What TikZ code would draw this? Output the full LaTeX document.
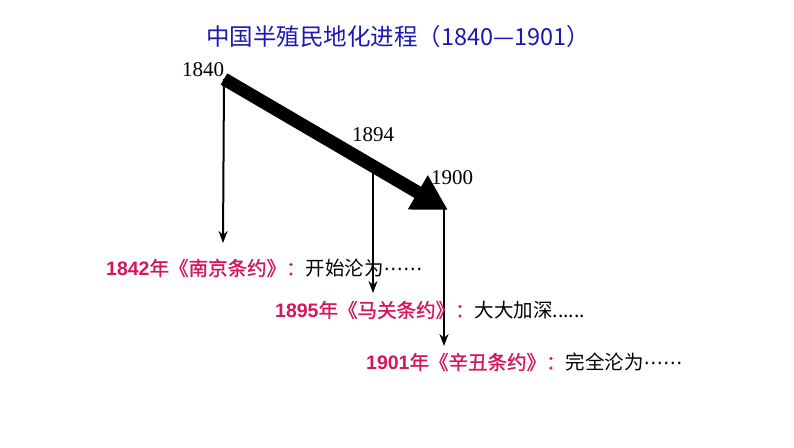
\documentclass[tikz,border=0pt]{standalone}
\usepackage{fontspec}
\setmainfont{Liberation Serif}
\newfontfamily\cjk{Noto Sans CJK SC}
\newfontfamily\cjkm[RawFeature={embolden=1.2}]{Noto Sans CJK SC}
\newfontfamily\arl{Liberation Sans}
\newfontfamily\dvs{DejaVu Sans}
\usetikzlibrary{arrows.meta}
\definecolor{titleblue}{RGB}{26,26,176}
\definecolor{treatypink}{RGB}{214,22,92}
\tikzset{
  yearlbl/.style={font=\fontsize{21}{21}\selectfont, inner sep=0pt, anchor=west},
  evtlbl/.style={font=\cjk\fontsize{19.5}{19.5}\selectfont, inner sep=0pt, anchor=west},
  dropline/.style={line width=2pt, -{Stealth[length=12pt,width=9pt]}},
  bigarrow/.style={line width=13pt, -{Triangle[length=35pt,width=37pt]}},
}
\newcommand{\pk}[2]{\textcolor{treatypink}{{\arl\bfseries #1}{\cjkm #2}}}
\newcommand{\mdots}{{\dvs ⋯⋯}}
\begin{document}
\begin{tikzpicture}[x=1pt,y=-1pt]
\useasboundingbox (0,0) rectangle (794,447);
\node[anchor=west, inner sep=0pt, text=titleblue, font=\cjk\fontsize{23.5}{23.5}\selectfont] (title) at (206,37) {中国半殖民地化进程（1840—1901）};
\node[yearlbl] (y1840) at (182,70) {1840};
\node[yearlbl] (y1894) at (352,135) {1894};
\node[yearlbl] (y1900) at (431,178) {1900};
\coordinate (s) at (224,79);
\coordinate (e) at (448,210);
\coordinate (b1894) at (373,166);
\coordinate (b1900) at (444,208);
\coordinate (t1) at (223,243);
\coordinate (t2) at (373,293);
\coordinate (t3) at (444,346);
\draw[bigarrow] (s) -- (e);
\draw[dropline] (s) -- (t1);
\draw[dropline] (b1894) -- (t2);
\draw[dropline, line width=2.8pt] (b1900) -- (t3);
\node[evtlbl] (ev1) at (106,268) {\pk{1842}{年《南京条约》：}开始沦为\mdots};
\node[evtlbl] (ev2) at (275,310) {\pk{1895}{年《马关条约》：}大大加深......};
\node[evtlbl] (ev3) at (366,362) {\pk{1901}{年《辛丑条约》：}完全沦为\mdots};
\end{tikzpicture}
\end{document}
